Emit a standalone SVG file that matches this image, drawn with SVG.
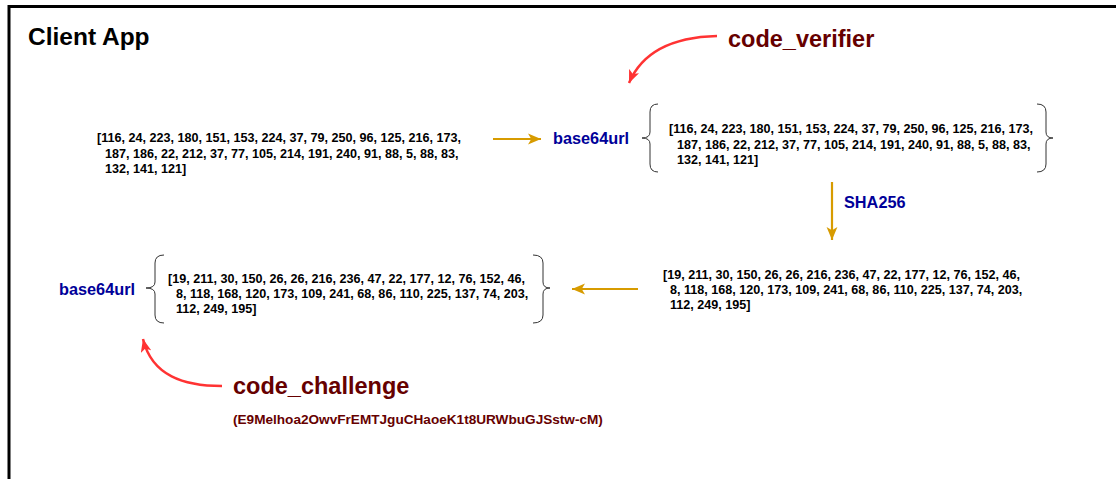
<svg xmlns="http://www.w3.org/2000/svg" width="1116" height="479" viewBox="0 0 1116 479">
  <defs>
    <style>
      .title { font-family: "Liberation Sans", Arial, sans-serif; font-weight: bold; font-size: 24.5px; fill: #000; }
      .arr { font-family: "Liberation Sans", Arial, sans-serif; font-weight: bold; font-size: 12.6px; fill: #000; }
      .op { font-family: "Liberation Sans", Arial, sans-serif; font-weight: bold; font-size: 16.3px; fill: #000099; }
      .note { font-family: "Liberation Sans", Arial, sans-serif; font-weight: bold; font-size: 23.5px; fill: #660000; }
      .hash { font-family: "Liberation Sans", Arial, sans-serif; font-weight: bold; font-size: 13.6px; fill: #660000; }
      .brace { fill: none; stroke: #333333; stroke-width: 1; }
      .flow { fill: none; stroke: #D79B00; stroke-width: 2.2; }
      .callout { fill: none; stroke: #FF3333; stroke-width: 2.5; }
    </style>
    <marker id="orangeHead" viewBox="0 0 12 10" refX="12" refY="5" markerWidth="13" markerHeight="12" orient="auto" markerUnits="userSpaceOnUse">
      <path d="M0,0 L12,5 L0,10 L3,5 Z" fill="#D79B00"/>
    </marker>
    <marker id="redHead" viewBox="0 0 12 10" refX="12" refY="5" markerWidth="13" markerHeight="11" orient="auto" markerUnits="userSpaceOnUse">
      <path d="M0,0 L12,5 L0,10 L3,5 Z" fill="#FF3333"/>
    </marker>
  </defs>

  <rect x="0" y="0" width="1116" height="479" fill="#ffffff"/>

  <!-- container frame -->
  <g id="client-app">
    <rect x="9" y="6.5" width="1200" height="600" fill="#ffffff" stroke="#000000" stroke-width="3"/>
    <text class="title" x="28" y="45">Client App</text>
  </g>

  <!-- raw random bytes -->
  <g id="random-bytes">
    <text class="arr" x="97" y="142">[116, 24, 223, 180, 151, 153, 224, 37, 79, 250, 96, 125, 216, 173,</text>
    <text class="arr" x="105" y="158">187, 186, 22, 212, 37, 77, 105, 214, 191, 240, 91, 88, 5, 88, 83,</text>
    <text class="arr" x="105" y="173">132, 141, 121]</text>
  </g>

  <!-- base64url of the random bytes -->
  <g id="verifier-encode">
    <text class="op" x="553" y="144">base64url</text>
    <path class="brace" d="M658,104 Q650,104 650,112 L650,132 Q650,138 642,138 Q650,138 650,144 L650,164 Q650,172 658,172"/>
    <path class="brace" d="M1037,104 Q1046,104 1046,112 L1046,132 Q1046,138 1053,138 Q1046,138 1046,144 L1046,164 Q1046,172 1037,172"/>
    <text class="arr" x="669" y="133">[116, 24, 223, 180, 151, 153, 224, 37, 79, 250, 96, 125, 216, 173,</text>
    <text class="arr" x="677" y="149">187, 186, 22, 212, 37, 77, 105, 214, 191, 240, 91, 88, 5, 88, 83,</text>
    <text class="arr" x="677" y="164">132, 141, 121]</text>
  </g>

  <!-- SHA256 digest -->
  <g id="digest-bytes">
    <text class="arr" x="663" y="279">[19, 211, 30, 150, 26, 26, 216, 236, 47, 22, 177, 12, 76, 152, 46,</text>
    <text class="arr" x="670" y="294">8, 118, 168, 120, 173, 109, 241, 68, 86, 110, 225, 137, 74, 203,</text>
    <text class="arr" x="670" y="309">112, 249, 195]</text>
  </g>

  <!-- base64url of the digest -->
  <g id="challenge-encode">
    <text class="op" x="59" y="295">base64url</text>
    <path class="brace" d="M164,255 Q155,255 155,263 L155,282 Q155,288 146,288 Q155,288 155,294 L155,315 Q155,323 164,323"/>
    <path class="brace" d="M533,255 Q543,255 543,263 L543,282 Q543,288 550,288 Q543,288 543,294 L543,315 Q543,323 533,323"/>
    <text class="arr" x="168" y="283">[19, 211, 30, 150, 26, 26, 216, 236, 47, 22, 177, 12, 76, 152, 46,</text>
    <text class="arr" x="176" y="298">8, 118, 168, 120, 173, 109, 241, 68, 86, 110, 225, 137, 74, 203,</text>
    <text class="arr" x="176" y="313">112, 249, 195]</text>
  </g>

  <!-- callout labels -->
  <g id="verifier-label">
    <text class="note" x="728" y="47">code_verifier</text>
  </g>
  <g id="challenge-label">
    <text class="note" x="233" y="394">code_challenge</text>
    <text class="hash" x="233" y="424">(E9Melhoa2OwvFrEMTJguCHaoeK1t8URWbuGJSstw-cM)</text>
  </g>

  <!-- connectors -->
  <g id="connectors">
    <line class="flow" x1="493" y1="139" x2="541" y2="139" marker-end="url(#orangeHead)"/>
    <line class="flow" x1="832" y1="182" x2="832" y2="240" marker-end="url(#orangeHead)"/>
    <text class="op" x="844" y="208">SHA256</text>
    <line class="flow" x1="638" y1="289" x2="572" y2="289" marker-end="url(#orangeHead)"/>
    <path class="callout" d="M717,36 C676,37 643,50 629,83" marker-end="url(#redHead)"/>
    <path class="callout" d="M222,386 C184,386 152,376 143,339" marker-end="url(#redHead)"/>
  </g>
</svg>
